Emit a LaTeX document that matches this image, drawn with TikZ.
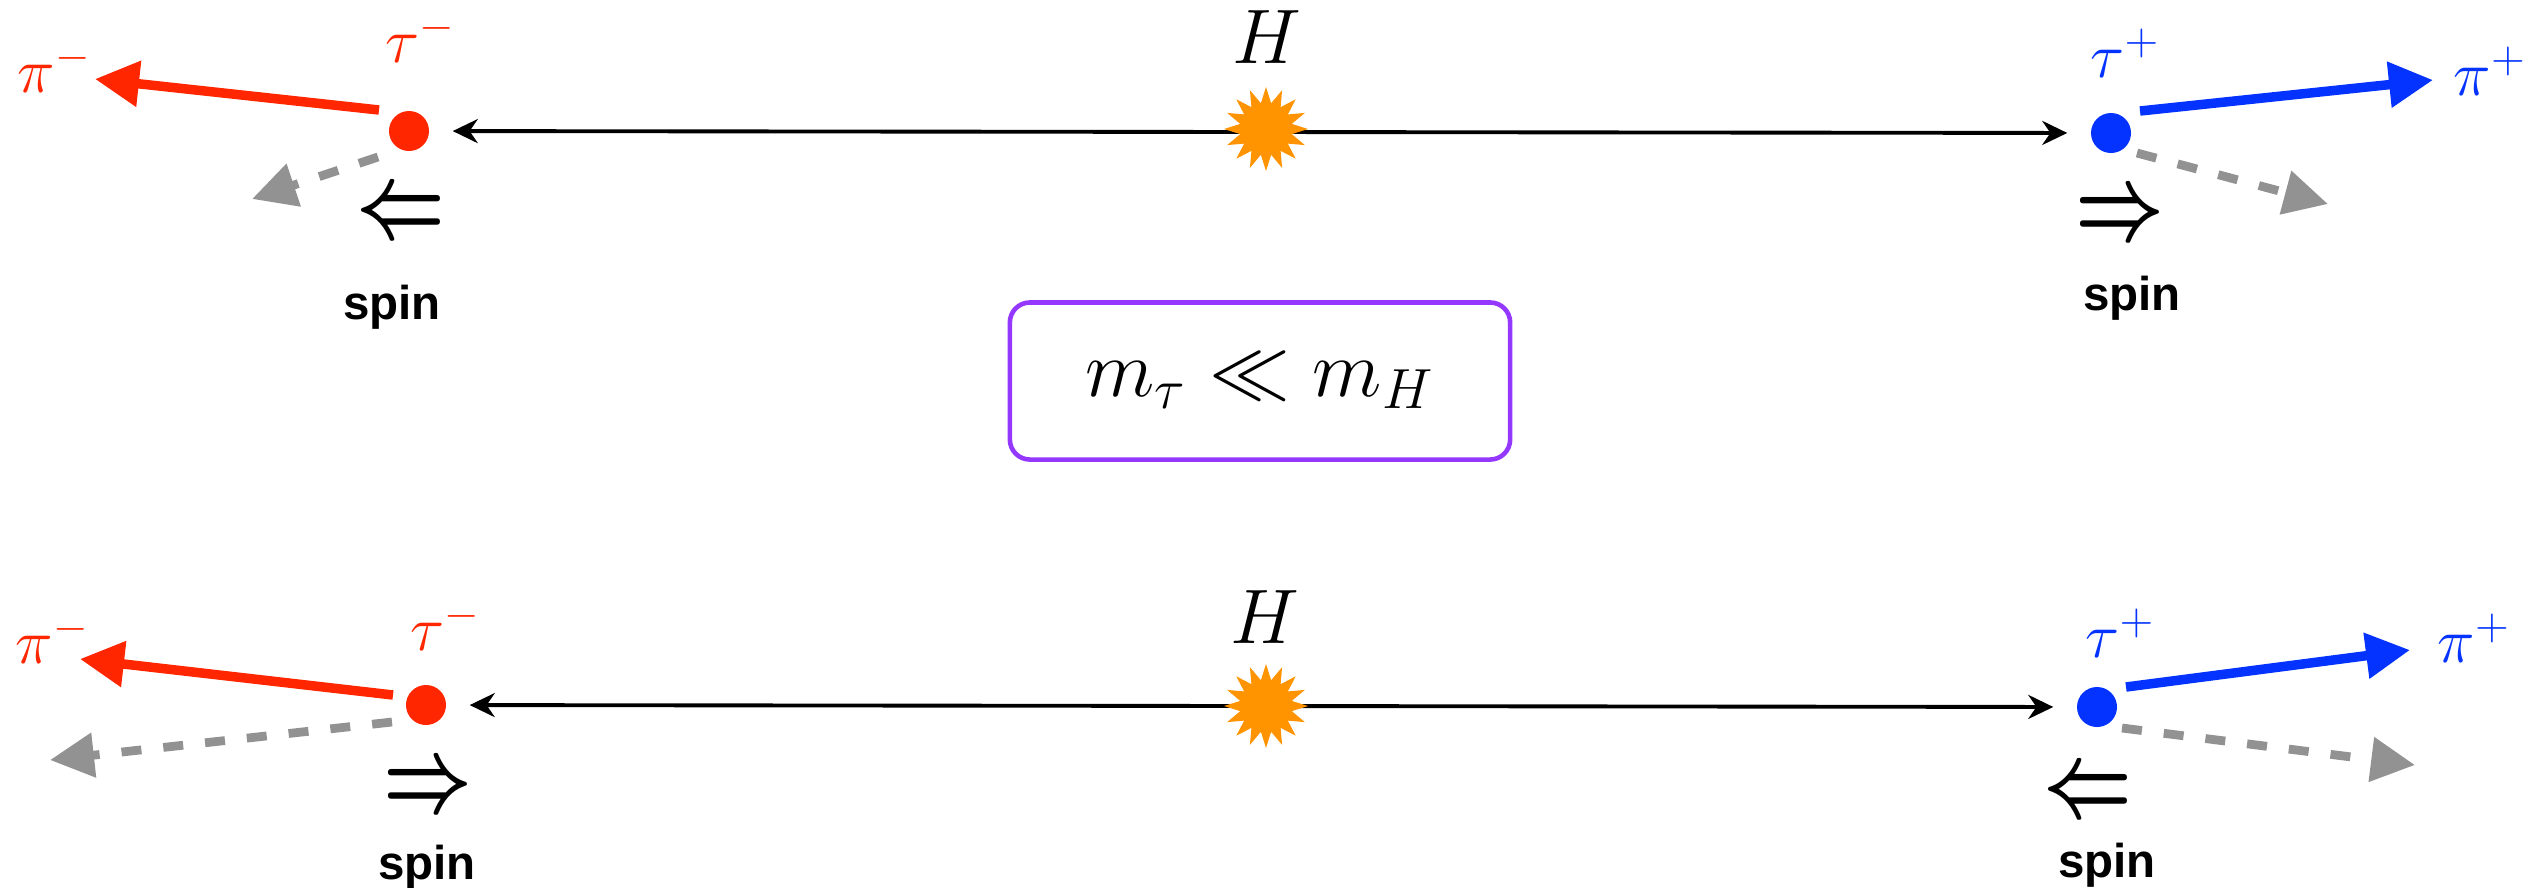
\RequirePackage{fix-cm}
\documentclass[tikz,border=0pt]{standalone}
\usepackage{fontspec}
\newfontfamily\spinfont{Liberation Sans}
\usetikzlibrary{positioning, arrows.meta, shapes.geometric}
\definecolor{taured}{RGB}{255,38,0}
\definecolor{taublue}{RGB}{4,51,255}
\definecolor{nugray}{RGB}{146,146,146}
\definecolor{starorange}{RGB}{255,147,0}
\definecolor{boxpurple}{RGB}{148,55,255}

\begin{document}
\begin{tikzpicture}[x=0.01cm, y=-0.01cm,
    taudot/.style={circle, inner sep=0pt, minimum size=0.4cm},
    pilabel/.style={anchor=base west, inner sep=0pt, font=\fontsize{18}{21}\selectfont},
    hlabel/.style={anchor=base, inner sep=0pt, font=\fontsize{22}{26}\selectfont},
    spinlabel/.style={anchor=base, inner sep=0pt, font=\spinfont\bfseries\fontsize{13.5}{16}\selectfont},
    spinarrow/.style={inner sep=0pt, font=\fontsize{22}{26}\selectfont},
    higgs/.style={star, star points=16, star point ratio=1.6, fill=starorange, inner sep=0pt, minimum size=0.84cm},
    hline/.style={{Stealth[length=0.25cm, width=0.24cm]}-{Stealth[length=0.25cm, width=0.24cm]}, line width=1.1pt, shorten <=0.23cm, shorten >=0.23cm},
    pion/.style={-{Triangle[length=0.44cm, width=0.44cm]}, line width=2.7pt},
    nu/.style={-{Triangle[length=0.44cm, width=0.43cm]}, nugray, line width=2.5pt, dash pattern=on 0.2cm off 0.22cm},
    massbox/.style={draw=boxpurple, line width=1.3pt, rounded corners=0.2cm, minimum width=5cm, minimum height=1.57cm, font=\fontsize{23}{27}\selectfont}
]
\useasboundingbox (0,0) rectangle (2542,887);

% ============ TOP ROW ============
\node[taudot, fill=taured] (tauLa) at (409,131) {};
\node[taudot, fill=taublue] (tauRa) at (2111,133) {};
\draw[hline] (tauLa) -- (tauRa);
\node[higgs] (higgsA) at (1266,129) {};
\node[hlabel] (hA) at (1267,63) {$H$};

% decay products
\coordinate (piLa0) at (379,110); \coordinate (piLa1) at (95,79);
\coordinate (nuLa0) at (378,157); \coordinate (nuLa1) at (252,199);
\coordinate (piRa0) at (2140,111); \coordinate (piRa1) at (2433,80);
\coordinate (nuRa0) at (2137,153); \coordinate (nuRa1) at (2328,204);
\draw[pion, taured] (piLa0) -- (piLa1);
\draw[pion, taublue] (piRa0) -- (piRa1);
\draw[nu] (nuLa0) -- (nuLa1);
\draw[nu] (nuRa0) -- (nuRa1);

\node[pilabel, text=taured] (pimA) at (17,92) {$\pi^-$};
\node[pilabel, text=taured] (taumA) at (385,62) {$\tau^-$};
\node[pilabel, text=taublue] (taupA) at (2090,77) {$\tau^+$};
\node[pilabel, text=taublue] (pipA) at (2453,95) {$\pi^+$};

% spins
\node[spinarrow] (spinLa) at (401,216) {\scalebox{1}[1.35]{\boldmath$\Leftarrow$}};
\node[spinarrow] (spinRa) at (2120,218) {\scalebox{1}[1.35]{\boldmath$\Rightarrow$}};
\node[spinlabel] (sLa) at (392,319) {spin};
\node[spinlabel] (sRa) at (2132,310) {spin};

% mass hierarchy
\node[massbox] (mass) at (1260,381) {$m_\tau \ll m_H$};

% ============ BOTTOM ROW ============
\node[taudot, fill=taured] (tauLb) at (426,705) {};
\node[taudot, fill=taublue] (tauRb) at (2097,707) {};
\draw[hline] (tauLb) -- (tauRb);
\node[higgs] (higgsB) at (1266,706) {};
\node[hlabel] (hB) at (1265,643) {$H$};

\coordinate (piLb0) at (393,695); \coordinate (piLb1) at (80,659);
\coordinate (nuLb0) at (392,722); \coordinate (nuLb1) at (50,760);
\coordinate (piRb0) at (2126,687); \coordinate (piRb1) at (2410,650);
\coordinate (nuRb0) at (2122,728); \coordinate (nuRb1) at (2415,765);
\draw[pion, taured] (piLb0) -- (piLb1);
\draw[pion, taublue] (piRb0) -- (piRb1);
\draw[nu] (nuLb0) -- (nuLb1);
\draw[nu] (nuRb0) -- (nuRb1);

\node[pilabel, text=taured] (pimB) at (15,663) {$\pi^-$};
\node[pilabel, text=taured] (taumB) at (410,650) {$\tau^-$};
\node[pilabel, text=taublue] (taupB) at (2085,657) {$\tau^+$};
\node[pilabel, text=taublue] (pipB) at (2437,662) {$\pi^+$};

\node[spinarrow] (spinLb) at (428,790) {\scalebox{1}[1.35]{\boldmath$\Rightarrow$}};
\node[spinarrow] (spinRb) at (2088,795) {\scalebox{1}[1.35]{\boldmath$\Leftarrow$}};
\node[spinlabel] (sLb) at (427,879) {spin};
\node[spinlabel] (sRb) at (2107,877) {spin};

\end{tikzpicture}
\end{document}
